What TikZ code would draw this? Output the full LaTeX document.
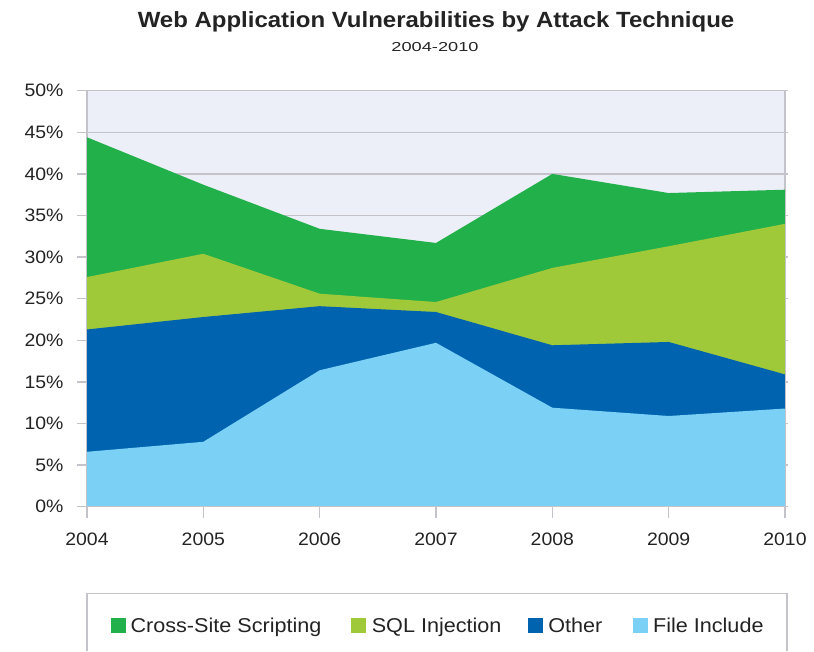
\documentclass[tikz,border=0pt]{standalone}
\usepackage{fontspec}
\setmainfont{Liberation Sans}[FakeStretch=1.08]
\newfontfamily\titlefont{Liberation Sans}[FakeStretch=1.09]
\newfontfamily\subtitlefont{Liberation Sans}[FakeStretch=1.4]

\definecolor{xssgreen}{RGB}{34,176,75}
\definecolor{sqllime}{RGB}{160,201,58}
\definecolor{otherblue}{RGB}{0,99,175}
\definecolor{fileblue}{RGB}{123,208,245}
\definecolor{plotbg}{RGB}{237,239,248}
\definecolor{gridgray}{RGB}{195,195,201}
\definecolor{textgray}{RGB}{35,35,35}

\begin{document}
\begin{tikzpicture}[x=1pt, y=1pt,
	gridline/.style={gridgray, line width=1.4pt},
	axislabel/.style={inner sep=0pt, text=textgray, font=\fontsize{18}{20}\selectfont},
	legsquare/.style={minimum size=15pt, inner sep=0pt},
	legtext/.style={anchor=base west, inner sep=0pt, text=textgray, font=\fontsize{20}{22}\selectfont}]
	
	\useasboundingbox (0,0) rectangle (814,651);
	
	% title
	\node [anchor=base, text=textgray, font=\titlefont\bfseries\fontsize{22}{26}\selectfont] (title) at (436,623.3) {Web Application Vulnerabilities by Attack Technique};
	\node [anchor=base, text=textgray, font=\subtitlefont\fontsize{13}{15}\selectfont] (subtitle) at (435,599.3) {2004-2010};
	
	% plot area, one unit = one year / one percent
	\begin{scope}[shift={(87pt,144.3pt)}, x=116.33pt, y=8.32pt]
	\fill [plotbg] (0,0) rectangle (6,50);
	\foreach \p in {5,10,...,50}
		\draw [gridline] (-0.086,\p) -- (6.026,\p);
	\draw [gridline] (0,0) -- (0,50);
	\draw [gridline] (6,0) -- (6,50);
	
	\fill [xssgreen] (0,0) -- plot coordinates {(0,44.4) (1,38.7) (2,33.4) (3,31.7) (4,40.0) (5,37.7) (6,38.1)} -- (6,0) -- cycle;
	\fill [sqllime] (0,0) -- plot coordinates {(0,27.6) (1,30.4) (2,25.6) (3,24.6) (4,28.7) (5,31.3) (6,34.0)} -- (6,0) -- cycle;
	\fill [otherblue] (0,0) -- plot coordinates {(0,21.3) (1,22.8) (2,24.1) (3,23.4) (4,19.4) (5,19.8) (6,15.9)} -- (6,0) -- cycle;
	\fill [fileblue] (0,0) -- plot coordinates {(0,6.6) (1,7.8) (2,16.4) (3,19.7) (4,11.9) (5,10.9) (6,11.8)} -- (6,0) -- cycle;
	
	\draw [gridline] (-0.086,0) -- (6.026,0);
	\foreach \i in {0,...,6}
		\draw [gridline] (\i,0) -- (\i,-1.32);
	
	\foreach \p in {0,5,...,50}
		\node [axislabel, anchor=east] (ylab\p) at (-0.2,\p) {\p\%};
	\foreach \i [evaluate=\i as \yr using int(2004+\i)] in {0,...,6}
		\node [axislabel] (xlab\i) at (\i,-3.9) {\yr};
	\end{scope}
	
	% legend
	\draw [gridline] (87,0) -- (87,57.5) -- (787,57.5) -- (787,0);
	\node [legsquare, fill=xssgreen] (legxss) at (118.2,26) {};
	\node [legsquare, fill=sqllime] (legsql) at (358.9,26) {};
	\node [legsquare, fill=otherblue] (legother) at (535.5,26) {};
	\node [legsquare, fill=fileblue] (legfile) at (640.2,26) {};
	\node [legtext] (legxsstext) at ([xshift=4.5pt]legxss.south east) {Cross-Site Scripting};
	\node [legtext] (legsqltext) at ([xshift=5pt]legsql.south east) {SQL Injection};
	\node [legtext] (legothertext) at ([xshift=5pt]legother.south east) {Other};
	\node [legtext] (legfiletext) at ([xshift=5pt]legfile.south east) {File Include};
	
\end{tikzpicture}
\end{document}
